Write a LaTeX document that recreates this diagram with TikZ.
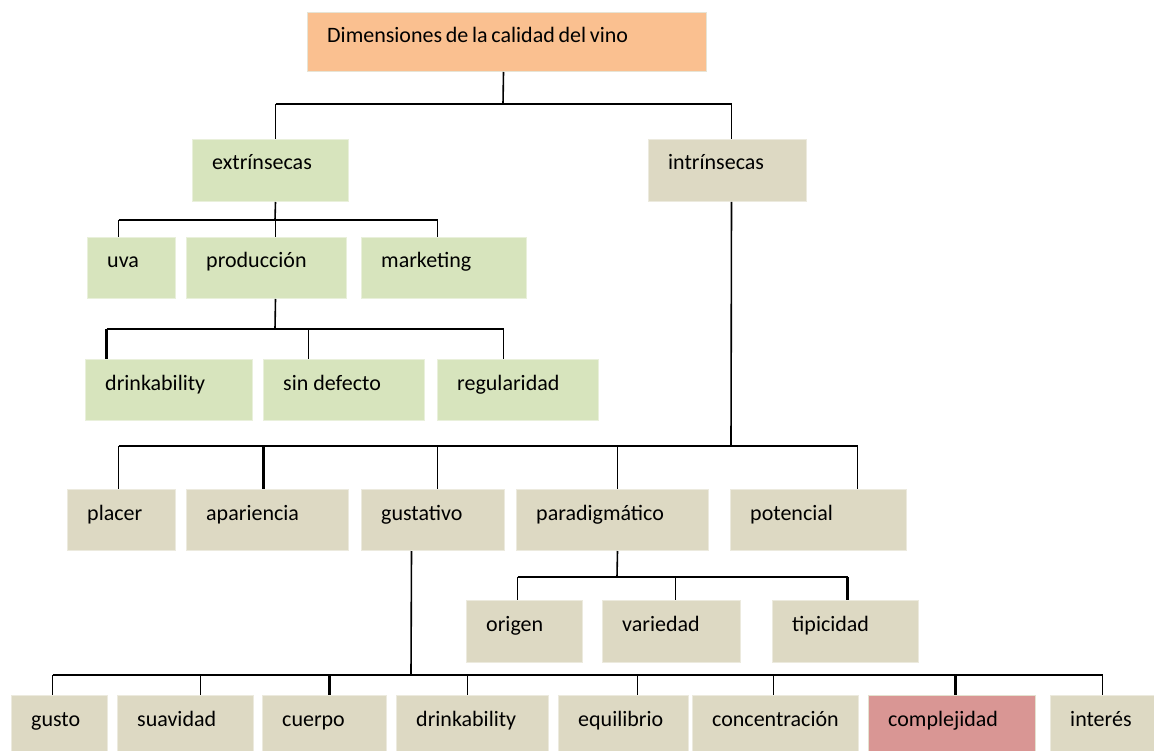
\documentclass[tikz,border=0pt]{standalone}
\usepackage{fontspec}
\setmainfont{Carlito}
\definecolor{boxgreen}{HTML}{D7E4BD}
\definecolor{boxbeige}{HTML}{DDD9C3}
\definecolor{boxorange}{HTML}{FAC090}
\definecolor{boxpink}{HTML}{D99694}
\tikzset{
  box/.style={rectangle, anchor=north west, inner sep=0pt, line width=1pt},
  gbox/.style={box, fill=boxgreen, draw=boxgreen!55!white},
  bbox/.style={box, fill=boxbeige, draw=boxbeige!55!white},
  obox/.style={box, fill=boxorange, draw=boxbeige!70!white},
  pbox/.style={box, fill=boxpink, draw=boxbeige!80!white},
  lbl/.style={anchor=base west, inner sep=0pt, font=\fontsize{22}{26}\selectfont},
  conn/.style={line width=1.6pt, black},
  thickconn/.style={line width=2.8pt, black},
}
\newcommand{\treebox}[7]{%
  \node[#2, minimum width=#5pt-#3pt, minimum height=#6pt-#4pt] (#1) at (#3,#4) {};
  \node[lbl] (#1-t) at ([xshift=20pt,yshift=-31pt]#1.north west) {#7};
}
\begin{document}
\begin{tikzpicture}[x=1pt,y=-1pt]
\useasboundingbox (0,0) rectangle (1154,751);
\fill[white] (0,0) rectangle (1154,751);
\clip (0,0) rectangle (1154,751);

% boxes
\treebox{root}{obox}{307}{12}{706}{71}{\spaceskip=0.17em Dimensiones de la calidad del vino}
\treebox{extr}{gbox}{192}{139}{348}{201}{extrínsecas}
\treebox{intr}{bbox}{648}{139}{806}{201}{intrínsecas}
\treebox{uva}{gbox}{87}{237}{175}{298}{uva}
\treebox{prod}{gbox}{186}{237}{346}{298}{producción}
\treebox{mark}{gbox}{361}{237}{526}{298}{marketing}
\treebox{drinkA}{gbox}{85}{359}{252}{420}{drinkability}
\treebox{sindef}{gbox}{263}{359}{424}{420}{sin defecto}
\treebox{regul}{gbox}{437}{359}{598}{420}{regularidad}
\treebox{placer}{bbox}{67}{489}{175}{550}{placer}
\treebox{apar}{bbox}{186}{489}{348}{550}{apariencia}
\treebox{gust}{bbox}{361}{489}{504}{550}{gustativo}
\treebox{parad}{bbox}{516}{489}{708}{550}{paradigmático}
\treebox{poten}{bbox}{730}{489}{906}{550}{potencial}
\treebox{origen}{bbox}{466}{600}{582}{662}{origen}
\treebox{varied}{bbox}{602}{600}{740}{662}{variedad}
\treebox{tipic}{bbox}{772}{600}{918}{662}{tipicidad}
\treebox{gusto}{bbox}{11}{695}{107}{760}{gusto}
\treebox{suav}{bbox}{117}{695}{253}{760}{suavidad}
\treebox{cuerpo}{bbox}{262}{695}{386}{760}{cuerpo}
\treebox{drinkB}{bbox}{396}{695}{548}{760}{drinkability}
\treebox{equil}{bbox}{558}{695}{688}{760}{equilibrio}
\treebox{conc}{bbox}{692}{695}{858}{760}{concentración}
\treebox{compl}{pbox}{868}{695}{1035}{760}{complejidad}
\treebox{inter}{bbox}{1050}{695}{1162}{760}{interés}

% connector end points
\coordinate (root-out) at ([xshift=-3.5pt]root.south);
\coordinate (extr-in) at ([xshift=5pt]extr.north);
\coordinate (extr-out) at ([xshift=5pt]extr.south);
\coordinate (intr-in) at ([xshift=4pt]intr.north);
\coordinate (intr-out) at ([xshift=4pt]intr.south);
\coordinate (uva-in) at ([xshift=-13pt]uva.north);
\coordinate (prod-in) at ([xshift=9pt]prod.north);
\coordinate (prod-out) at ([xshift=9pt]prod.south);
\coordinate (mark-in) at ([xshift=-6.5pt]mark.north);
\coordinate (drinkA-in) at ([xshift=-62.5pt]drinkA.north);
\coordinate (sindef-in) at ([xshift=-35.5pt]sindef.north);
\coordinate (regul-in) at ([xshift=-14.5pt]regul.north);
\coordinate (placer-in) at ([xshift=-3pt]placer.north);
\coordinate (apar-in) at ([xshift=-4pt]apar.north);
\coordinate (gust-in) at ([xshift=4.5pt]gust.north);
\coordinate (gust-out) at ([xshift=-21.5pt]gust.south);
\coordinate (parad-in) at ([xshift=5pt]parad.north);
\coordinate (parad-out) at ([xshift=5pt]parad.south);
\coordinate (poten-in) at ([xshift=39pt]poten.north);
\coordinate (origen-in) at ([xshift=-7pt]origen.north);
\coordinate (varied-in) at ([xshift=4pt]varied.north);
\coordinate (tipic-in) at ([xshift=2pt]tipic.north);
\coordinate (gusto-in) at ([xshift=-7pt]gusto.north);
\coordinate (suav-in) at ([xshift=15pt]suav.north);
\coordinate (cuerpo-in) at ([xshift=5pt]cuerpo.north);
\coordinate (drinkB-in) at ([xshift=-5pt]drinkB.north);
\coordinate (equil-in) at ([xshift=14pt]equil.north);
\coordinate (conc-in) at ([xshift=-2pt]conc.north);
\coordinate (compl-in) at ([xshift=3.5pt]compl.north);
\coordinate (inter-in) at ([xshift=-4pt]inter.north);

% bus junctions
\coordinate (j1) at (503,104);
\coordinate (j2) at (275,220);
\coordinate (j3) at (275,329);
\coordinate (j4) at (731,446);
\coordinate (j5) at (617,577);
\coordinate (j6) at (411,675);

% level 1
\draw[conn] (root-out) -- (j1);
\draw[conn] (extr-in |- j1) -- (intr-in |- j1);
\draw[conn] (extr-in |- j1) -- (extr-in);
\draw[conn] (intr-in |- j1) -- (intr-in);
% level 2
\draw[conn] (extr-out) -- (j2);
\draw[conn] (uva-in |- j2) -- (mark-in |- j2);
\foreach \c in {uva,prod,mark} \draw[conn] (\c-in |- j2) -- (\c-in);
% level 3
\draw[conn] (prod-out) -- (j3);
\draw[thickconn] (drinkA-in |- j3) -- (regul-in |- j3);
\draw[thickconn] (drinkA-in |- j3) -- (drinkA-in);
\draw[conn] (sindef-in |- j3) -- (sindef-in);
\draw[conn] (regul-in |- j3) -- (regul-in);
% level 4
\draw[conn] (intr-out) -- (j4);
\draw[conn] (placer-in |- j4) -- (poten-in |- j4);
\foreach \c in {placer,gust,parad,poten} \draw[conn] (\c-in |- j4) -- (\c-in);
\draw[thickconn] (apar-in |- j4) -- (apar-in);
% level 5
\draw[conn] (parad-out) -- (j5);
\draw[thickconn] (origen-in |- j5) -- (tipic-in |- j5);
\draw[conn] (origen-in |- j5) -- (origen-in);
\draw[conn] (varied-in |- j5) -- (varied-in);
\draw[thickconn] (tipic-in |- j5) -- (tipic-in);
% level 6
\draw[conn] (gust-out) -- (j6);
\draw[conn] (gusto-in |- j6) -- (inter-in |- j6);
\foreach \c in {gusto,suav,drinkB,equil,conc,inter} \draw[conn] (\c-in |- j6) -- (\c-in);
\draw[thickconn] (cuerpo-in |- j6) -- (cuerpo-in);
\draw[thickconn] (compl-in |- j6) -- (compl-in);
\end{tikzpicture}
\end{document}
